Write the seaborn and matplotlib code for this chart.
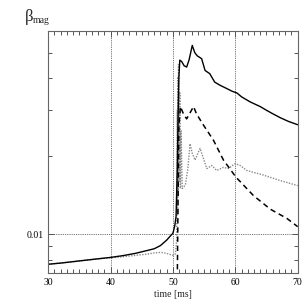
import numpy as np
import pandas as pd
import matplotlib
matplotlib.use("Agg")
import matplotlib.pyplot as plt
import matplotlib.ticker as mticker
import seaborn as sns

# ---- data ----
solid_t = [30, 32, 35, 38, 40, 42, 44, 46, 47, 48, 49, 49.5, 50.0, 50.3, 50.5, 50.7, 50.8, 50.95,
           51.1, 51.4, 51.8, 52.2, 52.6, 53.1, 53.5, 53.9, 54.6, 55.15, 55.9, 56.7, 57.5, 58.6,
           59.5, 60.24, 61, 62.4, 64, 65, 66, 67.2, 68.5, 70]
solid_v = [0.00767, 0.00775, 0.0079, 0.00805, 0.00815, 0.00828, 0.00845, 0.00868, 0.0088, 0.00905,
           0.0095, 0.0098, 0.0101, 0.0108, 0.0117, 0.018, 0.026, 0.040,
           0.0468, 0.0462, 0.0445, 0.0440, 0.0470, 0.0533, 0.0500, 0.0486, 0.0474, 0.0427, 0.0415,
           0.0385, 0.0375, 0.0364, 0.0355, 0.0350, 0.0338, 0.0323, 0.0310, 0.0300, 0.0291, 0.0281,
           0.0272, 0.0264]

dashed_t = [50.65, 50.75, 50.85, 50.95, 51.2, 51.7, 52.2, 52.8, 53.3, 53.8, 54.9, 56.5, 58.1,
            60.1, 62.9, 65.6, 68.3, 70]
dashed_v = [0.005, 0.009, 0.016, 0.026, 0.0310, 0.0290, 0.0278, 0.0295, 0.0310, 0.0290, 0.0263,
            0.0230, 0.0193, 0.0166, 0.0141, 0.0125, 0.0115, 0.0107]

dotted_t = [30, 33, 36, 38, 40, 42, 44, 46, 47, 48, 48.5, 49.3, 50.0, 50.4, 50.6, 50.7, 50.75,
            50.8, 50.85, 50.9, 51.0, 51.1, 51.2, 51.3, 51.5, 52.0, 52.4, 52.74, 53.1, 53.55,
            54.0, 54.35, 55.43, 56.23, 57.03, 58.09, 58.89, 59.97, 60.77, 61.85, 64.5, 67.2, 70]
dotted_v = [0.00767, 0.0078, 0.00795, 0.00805, 0.00812, 0.0082, 0.0083, 0.0084, 0.00848, 0.00852,
            0.0085, 0.0084, 0.0083, 0.0084, 0.0095, 0.030, 0.012, 0.040, 0.014, 0.045, 0.016,
            0.035, 0.015, 0.025, 0.0150, 0.0155, 0.018, 0.0223, 0.0205, 0.0193, 0.0205, 0.0214,
            0.0179, 0.0184, 0.0176, 0.0181, 0.0179, 0.0187, 0.0184, 0.0176, 0.0169, 0.0161, 0.0154]

x_major = [30, 40, 50, 60, 70]
y_label_ticks = [0.01]

sns.set_theme(style="ticks")
plt.rcParams["font.family"] = ["Liberation Serif", "DejaVu Serif"]

fig = plt.figure(figsize=(3.05, 3.05), dpi=100)
ax = fig.add_axes([0.158, 0.105, 0.818, 0.793])

df_s = pd.DataFrame({"t": solid_t, "v": solid_v})
df_d = pd.DataFrame({"t": dashed_t, "v": dashed_v})
df_o = pd.DataFrame({"t": dotted_t, "v": dotted_v})

sns.lineplot(data=df_o, x="t", y="v", ax=ax, color="#8a8a8a", lw=1.0,
             linestyle=(0, (1, 1)), sort=False, estimator=None)
sns.lineplot(data=df_d, x="t", y="v", ax=ax, color="black", lw=1.1,
             linestyle=(0, (3.5, 2.5)), sort=False, estimator=None)
sns.lineplot(data=df_s, x="t", y="v", ax=ax, color="black", lw=1.0,
             sort=False, estimator=None)

ax.set_yscale("log")
ax.set_xlim(30, 70)
ax.set_ylim(0.0071, 0.0605)

ax.xaxis.set_major_locator(mticker.FixedLocator(x_major))
ax.xaxis.set_minor_locator(mticker.MultipleLocator(1))
ax.yaxis.set_major_locator(mticker.FixedLocator(y_label_ticks))
ax.yaxis.set_major_formatter(mticker.FixedFormatter(["0.01"]))
ax.yaxis.set_minor_locator(mticker.FixedLocator([0.008, 0.009, 0.02, 0.03, 0.04, 0.05]))
ax.yaxis.set_minor_formatter(mticker.NullFormatter())

ax.tick_params(which="both", direction="in", top=True, right=True, colors="#555555",
               labelcolor="black", labelsize=7, width=0.7)
ax.tick_params(which="major", length=4)
ax.tick_params(which="minor", length=3)

for s in ax.spines.values():
    s.set_color("#666666")
    s.set_linewidth(0.8)

ax.grid(True, which="major", axis="both", color="#444444", linestyle=(0, (1, 1.2)), lw=0.6)

ax.set_xlabel("time [ms]", fontsize=7, labelpad=2)
ax.set_ylabel("")
fig.text(0.082, 0.931, "β", fontsize=12, ha="left", va="baseline")
fig.text(0.106, 0.925, "mag", fontsize=7, ha="left", va="baseline")

fig.savefig("out.png", dpi=100)
